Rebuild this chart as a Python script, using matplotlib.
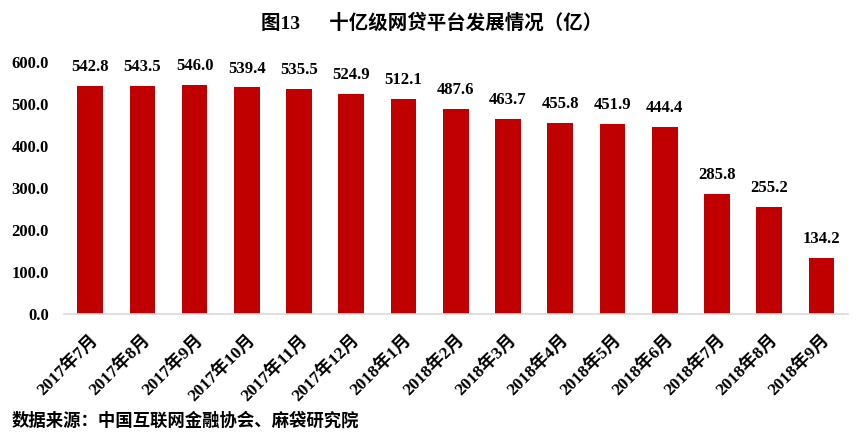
import matplotlib.pyplot as plt
import numpy as np

# data
months = ['2017年7月', '2017年8月', '2017年9月', '2017年10月', '2017年11月', '2017年12月',
          '2018年1月', '2018年2月', '2018年3月', '2018年4月', '2018年5月', '2018年6月',
          '2018年7月', '2018年8月', '2018年9月']
values = [542.8, 543.5, 546.0, 539.4, 535.5, 524.9, 512.1, 487.6,
          463.7, 455.8, 451.9, 444.4, 285.8, 255.2, 134.2]
yticks = [0, 100, 200, 300, 400, 500, 600]

fam = ['Liberation Serif', 'Noto Sans CJK SC']
plt.rcParams['font.family'] = fam

fig = plt.figure(figsize=(8.64, 4.37), dpi=100)
ax = fig.add_axes([0.074, 0.2815, 0.907, 0.5765])

x = np.arange(len(values))
ax.bar(x, values, width=0.49, color='#C00000')
for xi, v in zip(x, values):
    ax.text(xi, v + 26, f'{v:.1f}', ha='center', va='bottom',
            fontsize=12, fontweight='bold', clip_on=False)

ax.set_xlim(-0.5, len(values) - 0.5)
ax.set_ylim(0, 600)
ax.set_yticks(yticks)
ax.set_yticklabels([f'{t:.1f}' for t in yticks], fontsize=12, fontweight='bold')
ax.set_xticks(x)
ax.set_xticklabels(months, rotation=45, ha='right', rotation_mode='anchor',
                   fontsize=12.5, fontweight='bold')
ax.tick_params(length=0)
ax.tick_params(axis='y', pad=11)
ax.tick_params(axis='x', pad=13)
for s in ['top', 'right', 'left']:
    ax.spines[s].set_visible(False)
ax.spines['bottom'].set_color('#d9d9d9')
ax.spines['bottom'].set_linewidth(1.2)

fig.text(0.5, 0.948, '图13      十亿级网贷平台发展情况（亿）', ha='center', va='center',
         fontsize=14, fontweight='bold')
fig.text(0.013, 0.036, '数据来源：中国互联网金融协会、麻袋研究院', ha='left', va='center',
         fontsize=12.5, fontweight='bold')

fig.savefig('out.png', dpi=100)
